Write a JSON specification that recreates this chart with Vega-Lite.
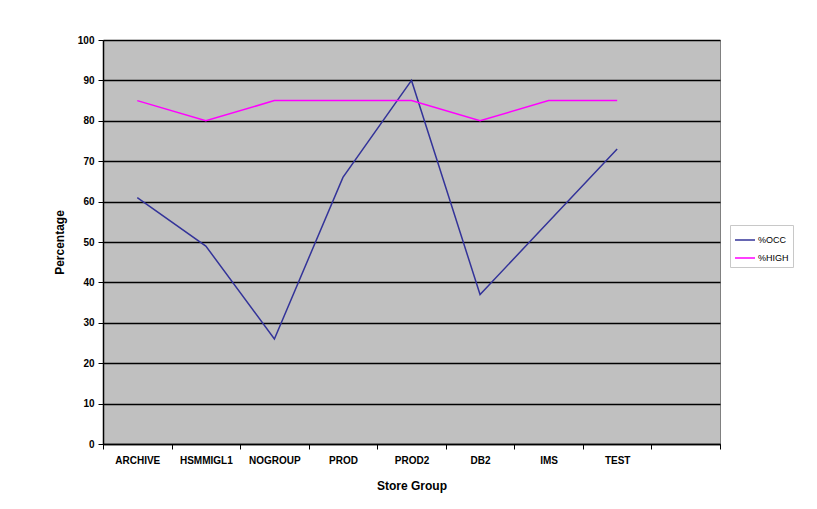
{
  "$schema": "https://vega.github.io/schema/vega-lite/v6.json",
  "autosize": "none",
  "width": 617,
  "height": 404,
  "padding": {"left": 103, "top": 40, "right": 97, "bottom": 65},
  "background": "white",
  "config": {
    "font": "Liberation Sans",
    "view": {"fill": "#C0C0C0", "stroke": "#808080", "strokeWidth": 1}
  },
  "data": {
    "values": [
      {"group": "ARCHIVE", "series": "%OCC", "value": 61},
      {"group": "HSMMIGL1", "series": "%OCC", "value": 49},
      {"group": "NOGROUP", "series": "%OCC", "value": 26},
      {"group": "PROD", "series": "%OCC", "value": 66},
      {"group": "PROD2", "series": "%OCC", "value": 90},
      {"group": "DB2", "series": "%OCC", "value": 37},
      {"group": "IMS", "series": "%OCC", "value": 55},
      {"group": "TEST", "series": "%OCC", "value": 73},
      {"group": "ARCHIVE", "series": "%HIGH", "value": 85},
      {"group": "HSMMIGL1", "series": "%HIGH", "value": 80},
      {"group": "NOGROUP", "series": "%HIGH", "value": 85},
      {"group": "PROD", "series": "%HIGH", "value": 85},
      {"group": "PROD2", "series": "%HIGH", "value": 85},
      {"group": "DB2", "series": "%HIGH", "value": 80},
      {"group": "IMS", "series": "%HIGH", "value": 85},
      {"group": "TEST", "series": "%HIGH", "value": 85}
    ]
  },
  "mark": {"type": "line", "strokeWidth": 1.5},
  "encoding": {
    "x": {
      "field": "group",
      "type": "nominal",
      "sort": null,
      "bandPosition": 0.5,
      "scale": {
        "type": "band",
        "domain": ["ARCHIVE", "HSMMIGL1", "NOGROUP", "PROD", "PROD2", "DB2", "IMS", "TEST", " "],
        "paddingInner": 0,
        "paddingOuter": 0
      },
      "axis": {
        "title": "Store Group",
        "titleFontSize": 12,
        "titleFontWeight": "bold",
        "titleColor": "black",
        "titlePadding": 15,
        "labelAngle": 0,
        "labelFontSize": 10,
        "labelFontWeight": "bold",
        "labelColor": "black",
        "labelPadding": 6,
        "tickBand": "extent",
        "tickColor": "black",
        "tickSize": 5,
        "domainColor": "black",
        "domainWidth": 1.5,
        "grid": false
      }
    },
    "y": {
      "field": "value",
      "type": "quantitative",
      "scale": {"domain": [0, 100], "nice": false},
      "axis": {
        "title": "Percentage",
        "titleFontSize": 12,
        "titleFontWeight": "bold",
        "titleColor": "black",
        "titlePadding": 11,
        "values": [0, 10, 20, 30, 40, 50, 60, 70, 80, 90, 100],
        "labelFontSize": 10,
        "labelFontWeight": "bold",
        "labelColor": "black",
        "labelPadding": 4,
        "tickColor": "black",
        "tickSize": 5,
        "domainColor": "black",
        "domainWidth": 1.5,
        "grid": true,
        "gridColor": "black",
        "gridWidth": 1.5
      }
    },
    "color": {
      "field": "series",
      "type": "nominal",
      "scale": {"domain": ["%OCC", "%HIGH"], "range": ["#333399", "#FF00FF"]},
      "legend": {
        "title": null,
        "orient": "none",
        "legendX": 627,
        "legendY": 185,
        "symbolType": "stroke",
        "symbolSize": 400,
        "symbolStrokeWidth": 1.5,
        "labelFontSize": 9,
        "labelColor": "black",
        "labelOffset": 2,
        "rowPadding": 2,
        "padding": 4,
        "strokeColor": "#C8C8C8",
        "fillColor": "white"
      }
    }
  }
}
